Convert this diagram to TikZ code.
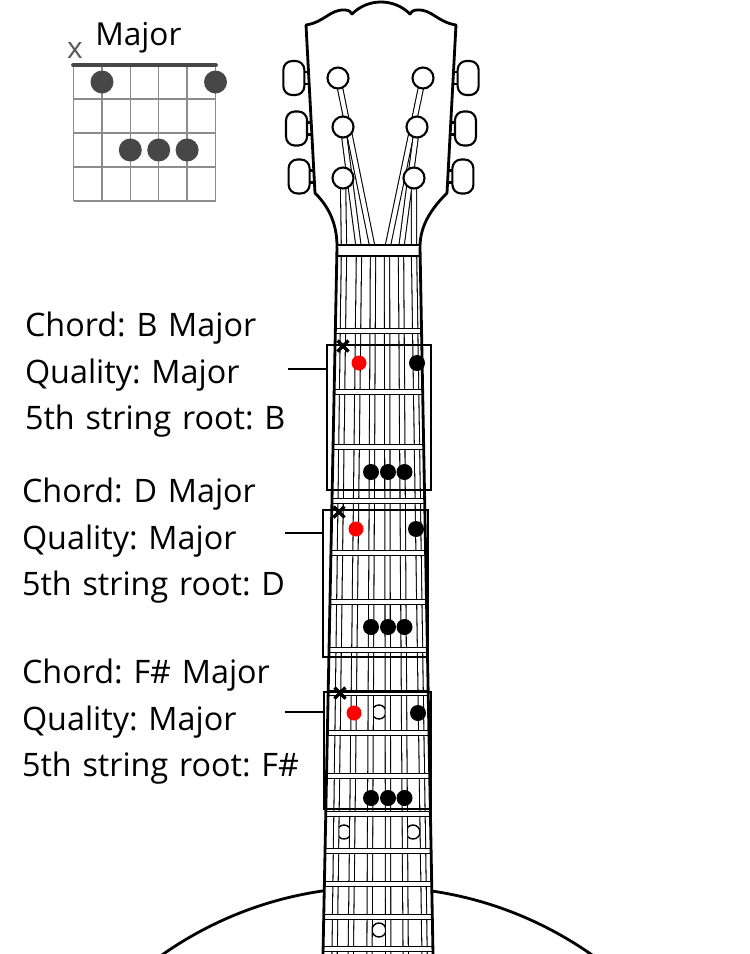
\documentclass[tikz,border=0pt]{standalone}
\usepackage{fontspec}
\setmainfont{Open Sans}
\frenchspacing
\usetikzlibrary{fit}
\begin{document}
\begin{tikzpicture}[x=0.02cm, y=-0.02cm, node distance=0.93cm]
\tikzstyle{edge} = [line width=1.6pt, line join=round]
\tikzstyle{fretbar} = [draw=black, fill=white, line width=0.8pt]
\tikzstyle{gstring} = [line width=0.6pt, double=white, double distance=2.4pt]
\tikzstyle{peg} = [draw=black, fill=white, line width=1.2pt]
\tikzstyle{knob} = [draw=black, fill=white, line width=1.2pt, rounded corners=5pt]
\tikzstyle{inlay} = [draw=black, fill=white, line width=0.8pt]
\tikzstyle{chordbox} = [draw=black, line width=1.4pt, inner sep=0pt]
\tikzstyle{info} = [font=\fontsize{18.4}{22}\selectfont, text width=6cm, align=left, text height=13.5pt, text depth=4.5pt, inner sep=0pt]
\tikzstyle{leader} = [line width=0.9pt]
\tikzstyle{mutex} = [line width=2pt]
\tikzstyle{grid} = [draw=black!45, line width=0.8pt]
\useasboundingbox (0,0) rectangle (750,954);
\clip (0,0) rectangle (750,954);
% body and neck
\draw[edge] (377,1261) circle (374);
\fill[white] (337,247) -- (420,247) -- (433,954) -- (323,954) -- cycle;
% tuners
\foreach \y in {78,128.5,176.5} {
  \pgfmathsetmacro\hl{306+9*(\y-25)/168}
  \pgfmathsetmacro\hr{456-9*(\y-25)/168}
  \draw[peg] ({\hl-7},{\y-6}) rectangle ({\hl+2},{\y+6});
  \draw[peg] ({\hr+7},{\y-6}) rectangle ({\hr-2},{\y+6});
  \draw[knob] ({\hl-25.5},{\y-17}) rectangle ({\hl-4.5},{\y+17});
  \draw[knob] ({\hr+4.5},{\y-17}) rectangle ({\hr+25.5},{\y+17});
}
% headstock
\filldraw[edge, fill=white] (306,25) .. controls (325,22) and (330,9) .. (345,10)
  .. controls (349,10) and (351,12) .. (352,14) .. controls (368,-2) and (394,-2) .. (410,14)
  .. controls (411,12) and (413,10) .. (417,10) .. controls (432,9) and (437,22) .. (456,25)
  -- (447,193) .. controls (432,208) and (420,225) .. (420,247) -- (337,247)
  .. controls (337,225) and (330,208) .. (315,193) -- cycle;
% inlays
\foreach \x/\y in {379/712, 344/832, 413/832, 379/930}
  \draw[inlay] (\x,\y) circle (7);
% strings
\foreach \px/\py/\tx/\bx in {343/178/344/334.6, 343/127/359/350.8, 338/78/373/369.5,
    423/78/387/388.2, 417/127/401/405.7, 414/178/414/424.6}
  \draw[gstring] (\px,\py) -- (\tx,250) -- (\bx,954);
% nut and frets
\draw[fretbar] (337,245) rectangle (420,256);
\foreach \f in {331,392,447,501,553,602,650,693,733,776,814,851,884,917,949} {
  \pgfmathsetmacro\xl{337-14*(\f-247)/707}
  \pgfmathsetmacro\xr{420+13*(\f-247)/707}
  \draw[fretbar] (\xl,{\f-2.75}) rectangle (\xr,{\f+2.75});
}
\draw[edge] (337,247) -- (323,954);
\draw[edge] (420,247) -- (433,954);
\foreach \x/\y in {338/78, 343/127, 343/178, 423/78, 417/127, 414/178}
  \draw[peg] (\x,\y) circle (10.5);
% chord shapes on the neck
\node (boxB)[chordbox, fit={(327,345) (431,490)}] {};
\node (boxD)[chordbox, fit={(323,510) (428,657)}] {};
\node (boxF)[chordbox, fit={(324,692) (431,809)}] {};
\foreach \mx/\my/\rx/\bx/\ya/\yb in {343/346/359/417/363/472, 339/512/356/416/529/627, 340/693/354/418/713/798} {
  \draw[mutex] (\mx,\my) +(-5.5,-5.5) -- +(5.5,5.5) +(-5.5,5.5) -- +(5.5,-5.5);
  \fill[red] (\rx,\ya) circle (7.5);
  \fill (\bx,\ya) circle (8);
  \foreach \tx in {371,388,404.5}
    \fill (\tx,\yb) circle (8);
}
% labels
\node (chordB)[info] at (175,329) {Chord: B Major};
\node (qualB)[info, below of=chordB] {Quality: Major};
\node (rootB)[info, below of=qualB] {5th string root: B};
\node (chordD)[info] at (172,495) {Chord: D Major};
\node (qualD)[info, below of=chordD] {Quality: Major};
\node (rootD)[info, below of=qualD] {5th string root: D};
\node (chordF)[info] at (172,676) {Chord: F\# Major};
\node (qualF)[info, below of=chordF] {Quality: Major};
\node (rootF)[info, below of=qualF] {5th string root: F\#};
\coordinate (tipB) at (288,369);
\coordinate (tipD) at (285,533);
\coordinate (tipF) at (285,712);
\draw[leader] (tipB) -- (tipB -| boxB.west);
\draw[leader] (tipD) -- (tipD -| boxD.west);
\draw[leader] (tipF) -- (tipF -| boxF.west);
% chord chart
\foreach \s in {0,...,5}
  \draw[grid] (73.5+28.4*\s,65) -- (73.5+28.4*\s,201);
\foreach \f in {1,...,4}
  \draw[grid] (73.5,65+34*\f) -- (215.5,65+34*\f);
\draw[draw=black!72, line width=2.8pt, line cap=round] (73.5,65) -- (215.5,65);
\foreach \x/\y in {102/82, 215.5/82, 130.3/150, 158.7/150, 187.1/150}
  \fill[black!72] (\x,\y) circle (11.5);
\node (mute)[font=\fontsize{17}{20}\selectfont, text=black!65, inner sep=0pt] at (75,51) {x};
\node (title)[anchor=base west, font=\fontsize{18}{22}\selectfont, inner sep=0pt] at (95,45) {Major};
\end{tikzpicture}
\end{document}
